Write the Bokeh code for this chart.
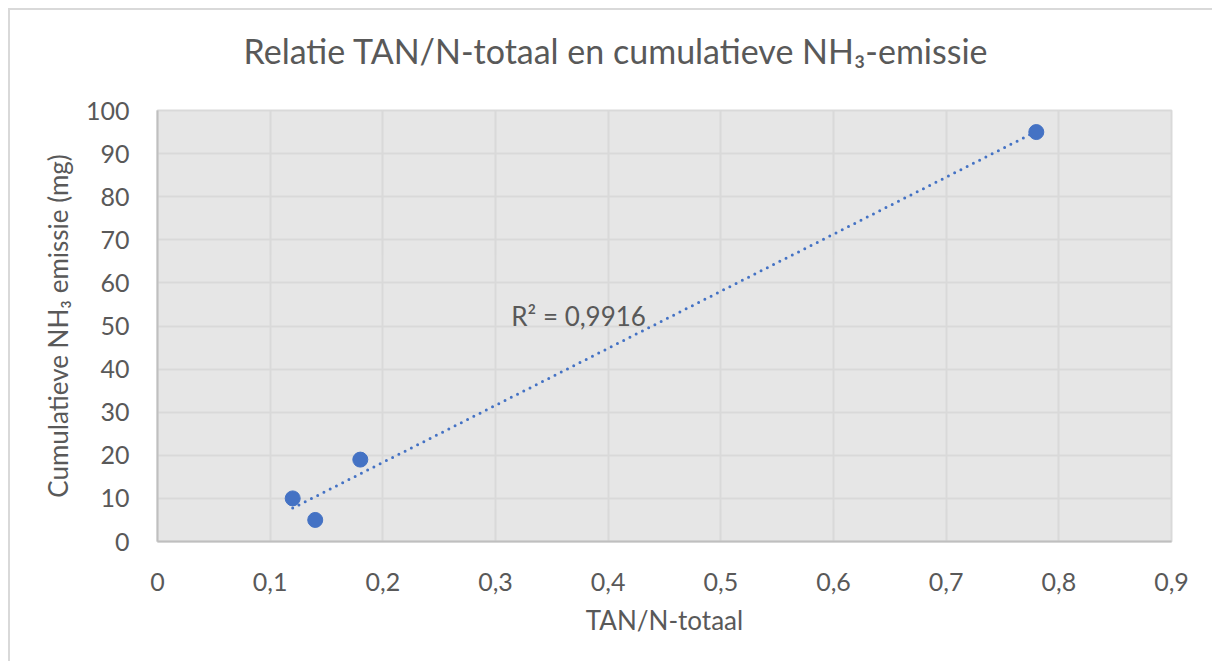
from bokeh.plotting import figure
from bokeh.models import Range1d, FixedTicker, CustomJSTickFormatter, Label, ColumnDataSource, Title
from bokeh.embed import file_html
from bokeh.resources import INLINE
import numpy as np

# ---- data ----
tan_n_ratio = [0.12, 0.14, 0.18, 0.78]
nh3_emission = [10, 5, 19, 95]
x_ticks = [0, 0.1, 0.2, 0.3, 0.4, 0.5, 0.6, 0.7, 0.8, 0.9]
y_ticks = [0, 10, 20, 30, 40, 50, 60, 70, 80, 90, 100]
r2_text = "R² = 0,9916"
title_text = "Relatie TAN/N-totaal en cumulatieve NH₃-emissie"
x_label = "TAN/N-totaal"
y_label = "Cumulatieve NH₃ emissie (mg)"

FONT = "Lato"
TXT = "#595959"
W, H = 1204, 653

p = figure(width=W, height=H, output_backend="svg", toolbar_location=None,
           x_range=Range1d(0, 0.9), y_range=Range1d(0, 100),
           min_border_left=147, min_border_right=43, min_border_top=100, min_border_bottom=122)
p.styles = {"border-left": "2px solid #D9D9D9", "border-top": "2px solid #D9D9D9",
            "margin-left": "8px", "margin-top": "8px"}

p.background_fill_color = "#E6E6E6"
p.border_fill_color = "white"
p.outline_line_color = "#D9D9D9"
p.outline_line_width = 2

# main title (outermost) plus a blank spacer panel between it and the plot area
p.title.text = title_text
p.title.align = "left"
p.title.offset = 86
p.title.text_font = FONT
p.title.text_font_size = "34px"
p.title.text_font_style = "normal"
p.title.text_color = TXT
p.title.standoff = 10
p.add_layout(Title(text=" ", text_font_size="1px", standoff=32), "above")

for ax in (p.xaxis[0], p.yaxis[0]):
    ax.axis_line_color = "#BFBFBF"
    ax.axis_line_width = 2
    ax.major_tick_line_color = None
    ax.minor_tick_line_color = None
    ax.major_label_text_font = FONT
    ax.major_label_text_font_size = "25px"
    ax.major_label_text_color = TXT
    ax.axis_label_text_font = FONT
    ax.axis_label_text_font_size = "26px"
    ax.axis_label_text_font_style = "normal"
    ax.axis_label_text_color = TXT

p.xaxis.ticker = FixedTicker(ticks=x_ticks)
p.yaxis.ticker = FixedTicker(ticks=y_ticks)
p.xaxis.formatter = CustomJSTickFormatter(code="return (Math.round(tick*10)/10).toString().replace('.', ',');")
p.xaxis.major_label_standoff = 25
p.yaxis.major_label_standoff = 22
p.xaxis.axis_label = x_label
p.yaxis.axis_label = y_label
p.xaxis.axis_label_standoff = 10
p.yaxis.axis_label_standoff = 9

p.xgrid.grid_line_color = "#D9D9D9"
p.ygrid.grid_line_color = "#D9D9D9"
p.xgrid.grid_line_width = 2
p.ygrid.grid_line_width = 2

# linear trend line from the data
xs = np.array(tan_n_ratio)
ys = np.array(nh3_emission)
slope, intercept = np.polyfit(xs, ys, 1)
tx = [float(xs.min()), float(xs.max())]
ty = [float(slope * v + intercept) for v in tx]
p.line(tx, ty, line_color="#4472C4", line_width=3, line_dash="0 7", line_cap="round")

src = ColumnDataSource(dict(x=tan_n_ratio, y=nh3_emission))
p.scatter("x", "y", source=src, size=15, fill_color="#4472C4", line_color="#4472C4")

p.add_layout(Label(x=0.314, y=52.4, text=r2_text, text_font=FONT, text_font_size="26px",
                   text_color=TXT, text_baseline="middle", text_align="left"))

open("out.html", "w").write(file_html(p, INLINE))
